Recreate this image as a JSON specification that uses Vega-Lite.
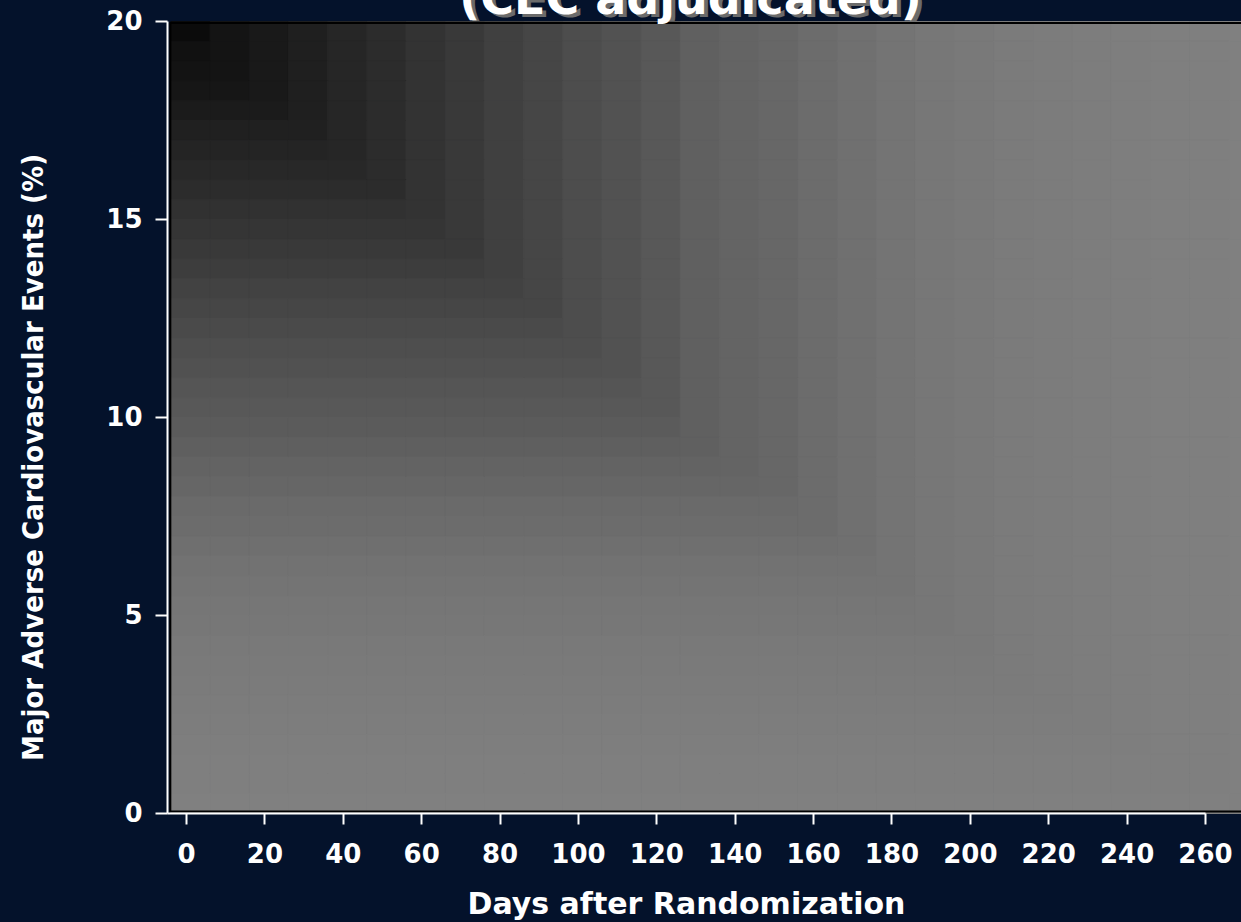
{
  "$schema": "https://vega.github.io/schema/vega-lite/v6.json",
  "autosize": {"type": "none"},
  "width": 1038,
  "height": 792,
  "padding": {"left": 167, "top": 21, "right": 36, "bottom": 109},
  "background": "#04122b",
  "config": {"view": {"stroke": null}},
  "data": {
    "values": [
      {"d":-4,"p":19.5,"g":11},{"d":6,"p":19.5,"g":20},{"d":16,"p":19.5,"g":25},{"d":26,"p":19.5,"g":31},{"d":36,"p":19.5,"g":38},{"d":46,"p":19.5,"g":44},{"d":56,"p":19.5,"g":51},{"d":66,"p":19.5,"g":57},{"d":76,"p":19.5,"g":64},{"d":86,"p":19.5,"g":70},{"d":96,"p":19.5,"g":77},{"d":106,"p":19.5,"g":82},{"d":116,"p":19.5,"g":88},{"d":126,"p":19.5,"g":96},{"d":136,"p":19.5,"g":100},{"d":146,"p":19.5,"g":103},{"d":156,"p":19.5,"g":108},{"d":166,"p":19.5,"g":112},{"d":176,"p":19.5,"g":116},{"d":186,"p":19.5,"g":119},{"d":196,"p":19.5,"g":121},{"d":206,"p":19.5,"g":123},{"d":216,"p":19.5,"g":124},{"d":226,"p":19.5,"g":125},{"d":236,"p":19.5,"g":126},{"d":246,"p":19.5,"g":127},{"d":256,"p":19.5,"g":127},{"d":266,"p":19.5,"g":128},
      {"d":-4,"p":19,"g":17},{"d":6,"p":19,"g":20},{"d":16,"p":19,"g":25},{"d":26,"p":19,"g":31},{"d":36,"p":19,"g":38},{"d":46,"p":19,"g":44},{"d":56,"p":19,"g":51},{"d":66,"p":19,"g":57},{"d":76,"p":19,"g":64},{"d":86,"p":19,"g":70},{"d":96,"p":19,"g":77},{"d":106,"p":19,"g":82},{"d":116,"p":19,"g":88},{"d":126,"p":19,"g":96},{"d":136,"p":19,"g":100},{"d":146,"p":19,"g":103},{"d":156,"p":19,"g":108},{"d":166,"p":19,"g":112},{"d":176,"p":19,"g":116},{"d":186,"p":19,"g":119},{"d":196,"p":19,"g":121},{"d":206,"p":19,"g":123},{"d":216,"p":19,"g":124},{"d":226,"p":19,"g":125},{"d":236,"p":19,"g":126},{"d":246,"p":19,"g":127},{"d":256,"p":19,"g":127},{"d":266,"p":19,"g":128},
      {"d":-4,"p":18.5,"g":19},{"d":6,"p":18.5,"g":20},{"d":16,"p":18.5,"g":25},{"d":26,"p":18.5,"g":31},{"d":36,"p":18.5,"g":38},{"d":46,"p":18.5,"g":44},{"d":56,"p":18.5,"g":51},{"d":66,"p":18.5,"g":57},{"d":76,"p":18.5,"g":64},{"d":86,"p":18.5,"g":70},{"d":96,"p":18.5,"g":77},{"d":106,"p":18.5,"g":82},{"d":116,"p":18.5,"g":88},{"d":126,"p":18.5,"g":96},{"d":136,"p":18.5,"g":100},{"d":146,"p":18.5,"g":103},{"d":156,"p":18.5,"g":108},{"d":166,"p":18.5,"g":112},{"d":176,"p":18.5,"g":116},{"d":186,"p":18.5,"g":119},{"d":196,"p":18.5,"g":121},{"d":206,"p":18.5,"g":123},{"d":216,"p":18.5,"g":124},{"d":226,"p":18.5,"g":125},{"d":236,"p":18.5,"g":126},{"d":246,"p":18.5,"g":127},{"d":256,"p":18.5,"g":127},{"d":266,"p":18.5,"g":128},
      {"d":-4,"p":18,"g":22},{"d":6,"p":18,"g":22},{"d":16,"p":18,"g":25},{"d":26,"p":18,"g":31},{"d":36,"p":18,"g":38},{"d":46,"p":18,"g":44},{"d":56,"p":18,"g":51},{"d":66,"p":18,"g":57},{"d":76,"p":18,"g":64},{"d":86,"p":18,"g":70},{"d":96,"p":18,"g":77},{"d":106,"p":18,"g":82},{"d":116,"p":18,"g":88},{"d":126,"p":18,"g":96},{"d":136,"p":18,"g":100},{"d":146,"p":18,"g":103},{"d":156,"p":18,"g":108},{"d":166,"p":18,"g":112},{"d":176,"p":18,"g":116},{"d":186,"p":18,"g":119},{"d":196,"p":18,"g":121},{"d":206,"p":18,"g":123},{"d":216,"p":18,"g":124},{"d":226,"p":18,"g":125},{"d":236,"p":18,"g":126},{"d":246,"p":18,"g":127},{"d":256,"p":18,"g":127},{"d":266,"p":18,"g":128},
      {"d":-4,"p":17.5,"g":27},{"d":6,"p":17.5,"g":27},{"d":16,"p":17.5,"g":27},{"d":26,"p":17.5,"g":31},{"d":36,"p":17.5,"g":38},{"d":46,"p":17.5,"g":44},{"d":56,"p":17.5,"g":51},{"d":66,"p":17.5,"g":57},{"d":76,"p":17.5,"g":64},{"d":86,"p":17.5,"g":70},{"d":96,"p":17.5,"g":77},{"d":106,"p":17.5,"g":82},{"d":116,"p":17.5,"g":88},{"d":126,"p":17.5,"g":96},{"d":136,"p":17.5,"g":100},{"d":146,"p":17.5,"g":103},{"d":156,"p":17.5,"g":108},{"d":166,"p":17.5,"g":112},{"d":176,"p":17.5,"g":116},{"d":186,"p":17.5,"g":119},{"d":196,"p":17.5,"g":121},{"d":206,"p":17.5,"g":123},{"d":216,"p":17.5,"g":124},{"d":226,"p":17.5,"g":125},{"d":236,"p":17.5,"g":126},{"d":246,"p":17.5,"g":127},{"d":256,"p":17.5,"g":127},{"d":266,"p":17.5,"g":128},
      {"d":-4,"p":17,"g":32},{"d":6,"p":17,"g":32},{"d":16,"p":17,"g":32},{"d":26,"p":17,"g":32},{"d":36,"p":17,"g":38},{"d":46,"p":17,"g":44},{"d":56,"p":17,"g":51},{"d":66,"p":17,"g":57},{"d":76,"p":17,"g":64},{"d":86,"p":17,"g":70},{"d":96,"p":17,"g":77},{"d":106,"p":17,"g":82},{"d":116,"p":17,"g":88},{"d":126,"p":17,"g":96},{"d":136,"p":17,"g":100},{"d":146,"p":17,"g":103},{"d":156,"p":17,"g":108},{"d":166,"p":17,"g":112},{"d":176,"p":17,"g":116},{"d":186,"p":17,"g":119},{"d":196,"p":17,"g":121},{"d":206,"p":17,"g":123},{"d":216,"p":17,"g":124},{"d":226,"p":17,"g":125},{"d":236,"p":17,"g":126},{"d":246,"p":17,"g":127},{"d":256,"p":17,"g":127},{"d":266,"p":17,"g":128},
      {"d":-4,"p":16.5,"g":36},{"d":6,"p":16.5,"g":36},{"d":16,"p":16.5,"g":36},{"d":26,"p":16.5,"g":36},{"d":36,"p":16.5,"g":38},{"d":46,"p":16.5,"g":44},{"d":56,"p":16.5,"g":51},{"d":66,"p":16.5,"g":57},{"d":76,"p":16.5,"g":64},{"d":86,"p":16.5,"g":70},{"d":96,"p":16.5,"g":77},{"d":106,"p":16.5,"g":82},{"d":116,"p":16.5,"g":88},{"d":126,"p":16.5,"g":96},{"d":136,"p":16.5,"g":100},{"d":146,"p":16.5,"g":103},{"d":156,"p":16.5,"g":108},{"d":166,"p":16.5,"g":112},{"d":176,"p":16.5,"g":116},{"d":186,"p":16.5,"g":119},{"d":196,"p":16.5,"g":121},{"d":206,"p":16.5,"g":123},{"d":216,"p":16.5,"g":124},{"d":226,"p":16.5,"g":125},{"d":236,"p":16.5,"g":126},{"d":246,"p":16.5,"g":127},{"d":256,"p":16.5,"g":127},{"d":266,"p":16.5,"g":128},
      {"d":-4,"p":16,"g":40},{"d":6,"p":16,"g":40},{"d":16,"p":16,"g":40},{"d":26,"p":16,"g":40},{"d":36,"p":16,"g":40},{"d":46,"p":16,"g":44},{"d":56,"p":16,"g":51},{"d":66,"p":16,"g":57},{"d":76,"p":16,"g":64},{"d":86,"p":16,"g":70},{"d":96,"p":16,"g":77},{"d":106,"p":16,"g":82},{"d":116,"p":16,"g":88},{"d":126,"p":16,"g":96},{"d":136,"p":16,"g":100},{"d":146,"p":16,"g":103},{"d":156,"p":16,"g":108},{"d":166,"p":16,"g":112},{"d":176,"p":16,"g":116},{"d":186,"p":16,"g":119},{"d":196,"p":16,"g":121},{"d":206,"p":16,"g":123},{"d":216,"p":16,"g":124},{"d":226,"p":16,"g":125},{"d":236,"p":16,"g":126},{"d":246,"p":16,"g":127},{"d":256,"p":16,"g":127},{"d":266,"p":16,"g":128},
      {"d":-4,"p":15.5,"g":44},{"d":6,"p":15.5,"g":44},{"d":16,"p":15.5,"g":44},{"d":26,"p":15.5,"g":44},{"d":36,"p":15.5,"g":44},{"d":46,"p":15.5,"g":44},{"d":56,"p":15.5,"g":51},{"d":66,"p":15.5,"g":57},{"d":76,"p":15.5,"g":64},{"d":86,"p":15.5,"g":70},{"d":96,"p":15.5,"g":77},{"d":106,"p":15.5,"g":82},{"d":116,"p":15.5,"g":88},{"d":126,"p":15.5,"g":96},{"d":136,"p":15.5,"g":100},{"d":146,"p":15.5,"g":103},{"d":156,"p":15.5,"g":108},{"d":166,"p":15.5,"g":112},{"d":176,"p":15.5,"g":116},{"d":186,"p":15.5,"g":119},{"d":196,"p":15.5,"g":121},{"d":206,"p":15.5,"g":123},{"d":216,"p":15.5,"g":124},{"d":226,"p":15.5,"g":125},{"d":236,"p":15.5,"g":126},{"d":246,"p":15.5,"g":127},{"d":256,"p":15.5,"g":127},{"d":266,"p":15.5,"g":128},
      {"d":-4,"p":15,"g":49},{"d":6,"p":15,"g":49},{"d":16,"p":15,"g":49},{"d":26,"p":15,"g":49},{"d":36,"p":15,"g":49},{"d":46,"p":15,"g":49},{"d":56,"p":15,"g":51},{"d":66,"p":15,"g":57},{"d":76,"p":15,"g":64},{"d":86,"p":15,"g":70},{"d":96,"p":15,"g":77},{"d":106,"p":15,"g":82},{"d":116,"p":15,"g":88},{"d":126,"p":15,"g":96},{"d":136,"p":15,"g":100},{"d":146,"p":15,"g":103},{"d":156,"p":15,"g":108},{"d":166,"p":15,"g":112},{"d":176,"p":15,"g":116},{"d":186,"p":15,"g":119},{"d":196,"p":15,"g":121},{"d":206,"p":15,"g":123},{"d":216,"p":15,"g":124},{"d":226,"p":15,"g":125},{"d":236,"p":15,"g":126},{"d":246,"p":15,"g":127},{"d":256,"p":15,"g":127},{"d":266,"p":15,"g":128},
      {"d":-4,"p":14.5,"g":53},{"d":6,"p":14.5,"g":53},{"d":16,"p":14.5,"g":53},{"d":26,"p":14.5,"g":53},{"d":36,"p":14.5,"g":53},{"d":46,"p":14.5,"g":53},{"d":56,"p":14.5,"g":53},{"d":66,"p":14.5,"g":57},{"d":76,"p":14.5,"g":64},{"d":86,"p":14.5,"g":70},{"d":96,"p":14.5,"g":77},{"d":106,"p":14.5,"g":82},{"d":116,"p":14.5,"g":88},{"d":126,"p":14.5,"g":96},{"d":136,"p":14.5,"g":100},{"d":146,"p":14.5,"g":103},{"d":156,"p":14.5,"g":108},{"d":166,"p":14.5,"g":112},{"d":176,"p":14.5,"g":116},{"d":186,"p":14.5,"g":119},{"d":196,"p":14.5,"g":121},{"d":206,"p":14.5,"g":123},{"d":216,"p":14.5,"g":124},{"d":226,"p":14.5,"g":125},{"d":236,"p":14.5,"g":126},{"d":246,"p":14.5,"g":127},{"d":256,"p":14.5,"g":127},{"d":266,"p":14.5,"g":128},
      {"d":-4,"p":14,"g":57},{"d":6,"p":14,"g":57},{"d":16,"p":14,"g":57},{"d":26,"p":14,"g":57},{"d":36,"p":14,"g":57},{"d":46,"p":14,"g":57},{"d":56,"p":14,"g":57},{"d":66,"p":14,"g":57},{"d":76,"p":14,"g":64},{"d":86,"p":14,"g":70},{"d":96,"p":14,"g":77},{"d":106,"p":14,"g":82},{"d":116,"p":14,"g":88},{"d":126,"p":14,"g":96},{"d":136,"p":14,"g":100},{"d":146,"p":14,"g":103},{"d":156,"p":14,"g":108},{"d":166,"p":14,"g":112},{"d":176,"p":14,"g":116},{"d":186,"p":14,"g":119},{"d":196,"p":14,"g":121},{"d":206,"p":14,"g":123},{"d":216,"p":14,"g":124},{"d":226,"p":14,"g":125},{"d":236,"p":14,"g":126},{"d":246,"p":14,"g":127},{"d":256,"p":14,"g":127},{"d":266,"p":14,"g":128},
      {"d":-4,"p":13.5,"g":61},{"d":6,"p":13.5,"g":61},{"d":16,"p":13.5,"g":61},{"d":26,"p":13.5,"g":61},{"d":36,"p":13.5,"g":61},{"d":46,"p":13.5,"g":61},{"d":56,"p":13.5,"g":61},{"d":66,"p":13.5,"g":61},{"d":76,"p":13.5,"g":64},{"d":86,"p":13.5,"g":70},{"d":96,"p":13.5,"g":77},{"d":106,"p":13.5,"g":82},{"d":116,"p":13.5,"g":88},{"d":126,"p":13.5,"g":96},{"d":136,"p":13.5,"g":100},{"d":146,"p":13.5,"g":103},{"d":156,"p":13.5,"g":108},{"d":166,"p":13.5,"g":112},{"d":176,"p":13.5,"g":116},{"d":186,"p":13.5,"g":119},{"d":196,"p":13.5,"g":121},{"d":206,"p":13.5,"g":123},{"d":216,"p":13.5,"g":124},{"d":226,"p":13.5,"g":125},{"d":236,"p":13.5,"g":126},{"d":246,"p":13.5,"g":127},{"d":256,"p":13.5,"g":127},{"d":266,"p":13.5,"g":128},
      {"d":-4,"p":13,"g":66},{"d":6,"p":13,"g":66},{"d":16,"p":13,"g":66},{"d":26,"p":13,"g":66},{"d":36,"p":13,"g":66},{"d":46,"p":13,"g":66},{"d":56,"p":13,"g":66},{"d":66,"p":13,"g":66},{"d":76,"p":13,"g":66},{"d":86,"p":13,"g":70},{"d":96,"p":13,"g":77},{"d":106,"p":13,"g":82},{"d":116,"p":13,"g":88},{"d":126,"p":13,"g":96},{"d":136,"p":13,"g":100},{"d":146,"p":13,"g":103},{"d":156,"p":13,"g":108},{"d":166,"p":13,"g":112},{"d":176,"p":13,"g":116},{"d":186,"p":13,"g":119},{"d":196,"p":13,"g":121},{"d":206,"p":13,"g":123},{"d":216,"p":13,"g":124},{"d":226,"p":13,"g":125},{"d":236,"p":13,"g":126},{"d":246,"p":13,"g":127},{"d":256,"p":13,"g":127},{"d":266,"p":13,"g":128},
      {"d":-4,"p":12.5,"g":70},{"d":6,"p":12.5,"g":70},{"d":16,"p":12.5,"g":70},{"d":26,"p":12.5,"g":70},{"d":36,"p":12.5,"g":70},{"d":46,"p":12.5,"g":70},{"d":56,"p":12.5,"g":70},{"d":66,"p":12.5,"g":70},{"d":76,"p":12.5,"g":70},{"d":86,"p":12.5,"g":70},{"d":96,"p":12.5,"g":77},{"d":106,"p":12.5,"g":82},{"d":116,"p":12.5,"g":88},{"d":126,"p":12.5,"g":96},{"d":136,"p":12.5,"g":100},{"d":146,"p":12.5,"g":103},{"d":156,"p":12.5,"g":108},{"d":166,"p":12.5,"g":112},{"d":176,"p":12.5,"g":116},{"d":186,"p":12.5,"g":119},{"d":196,"p":12.5,"g":121},{"d":206,"p":12.5,"g":123},{"d":216,"p":12.5,"g":124},{"d":226,"p":12.5,"g":125},{"d":236,"p":12.5,"g":126},{"d":246,"p":12.5,"g":127},{"d":256,"p":12.5,"g":127},{"d":266,"p":12.5,"g":128},
      {"d":-4,"p":12,"g":74},{"d":6,"p":12,"g":74},{"d":16,"p":12,"g":74},{"d":26,"p":12,"g":74},{"d":36,"p":12,"g":74},{"d":46,"p":12,"g":74},{"d":56,"p":12,"g":74},{"d":66,"p":12,"g":74},{"d":76,"p":12,"g":74},{"d":86,"p":12,"g":74},{"d":96,"p":12,"g":77},{"d":106,"p":12,"g":82},{"d":116,"p":12,"g":88},{"d":126,"p":12,"g":96},{"d":136,"p":12,"g":100},{"d":146,"p":12,"g":103},{"d":156,"p":12,"g":108},{"d":166,"p":12,"g":112},{"d":176,"p":12,"g":116},{"d":186,"p":12,"g":119},{"d":196,"p":12,"g":121},{"d":206,"p":12,"g":123},{"d":216,"p":12,"g":124},{"d":226,"p":12,"g":125},{"d":236,"p":12,"g":126},{"d":246,"p":12,"g":127},{"d":256,"p":12,"g":127},{"d":266,"p":12,"g":128},
      {"d":-4,"p":11.5,"g":78},{"d":6,"p":11.5,"g":78},{"d":16,"p":11.5,"g":78},{"d":26,"p":11.5,"g":78},{"d":36,"p":11.5,"g":78},{"d":46,"p":11.5,"g":78},{"d":56,"p":11.5,"g":78},{"d":66,"p":11.5,"g":78},{"d":76,"p":11.5,"g":78},{"d":86,"p":11.5,"g":78},{"d":96,"p":11.5,"g":78},{"d":106,"p":11.5,"g":82},{"d":116,"p":11.5,"g":88},{"d":126,"p":11.5,"g":96},{"d":136,"p":11.5,"g":100},{"d":146,"p":11.5,"g":103},{"d":156,"p":11.5,"g":108},{"d":166,"p":11.5,"g":112},{"d":176,"p":11.5,"g":116},{"d":186,"p":11.5,"g":119},{"d":196,"p":11.5,"g":121},{"d":206,"p":11.5,"g":123},{"d":216,"p":11.5,"g":124},{"d":226,"p":11.5,"g":125},{"d":236,"p":11.5,"g":126},{"d":246,"p":11.5,"g":127},{"d":256,"p":11.5,"g":127},{"d":266,"p":11.5,"g":128},
      {"d":-4,"p":11,"g":81},{"d":6,"p":11,"g":81},{"d":16,"p":11,"g":81},{"d":26,"p":11,"g":81},{"d":36,"p":11,"g":81},{"d":46,"p":11,"g":81},{"d":56,"p":11,"g":81},{"d":66,"p":11,"g":81},{"d":76,"p":11,"g":81},{"d":86,"p":11,"g":81},{"d":96,"p":11,"g":81},{"d":106,"p":11,"g":82},{"d":116,"p":11,"g":88},{"d":126,"p":11,"g":96},{"d":136,"p":11,"g":100},{"d":146,"p":11,"g":103},{"d":156,"p":11,"g":108},{"d":166,"p":11,"g":112},{"d":176,"p":11,"g":116},{"d":186,"p":11,"g":119},{"d":196,"p":11,"g":121},{"d":206,"p":11,"g":123},{"d":216,"p":11,"g":124},{"d":226,"p":11,"g":125},{"d":236,"p":11,"g":126},{"d":246,"p":11,"g":127},{"d":256,"p":11,"g":127},{"d":266,"p":11,"g":128},
      {"d":-4,"p":10.5,"g":85},{"d":6,"p":10.5,"g":85},{"d":16,"p":10.5,"g":85},{"d":26,"p":10.5,"g":85},{"d":36,"p":10.5,"g":85},{"d":46,"p":10.5,"g":85},{"d":56,"p":10.5,"g":85},{"d":66,"p":10.5,"g":85},{"d":76,"p":10.5,"g":85},{"d":86,"p":10.5,"g":85},{"d":96,"p":10.5,"g":85},{"d":106,"p":10.5,"g":85},{"d":116,"p":10.5,"g":88},{"d":126,"p":10.5,"g":96},{"d":136,"p":10.5,"g":100},{"d":146,"p":10.5,"g":103},{"d":156,"p":10.5,"g":108},{"d":166,"p":10.5,"g":112},{"d":176,"p":10.5,"g":116},{"d":186,"p":10.5,"g":119},{"d":196,"p":10.5,"g":121},{"d":206,"p":10.5,"g":123},{"d":216,"p":10.5,"g":124},{"d":226,"p":10.5,"g":125},{"d":236,"p":10.5,"g":126},{"d":246,"p":10.5,"g":127},{"d":256,"p":10.5,"g":127},{"d":266,"p":10.5,"g":128},
      {"d":-4,"p":10,"g":88},{"d":6,"p":10,"g":88},{"d":16,"p":10,"g":88},{"d":26,"p":10,"g":88},{"d":36,"p":10,"g":88},{"d":46,"p":10,"g":88},{"d":56,"p":10,"g":88},{"d":66,"p":10,"g":88},{"d":76,"p":10,"g":88},{"d":86,"p":10,"g":88},{"d":96,"p":10,"g":88},{"d":106,"p":10,"g":88},{"d":116,"p":10,"g":88},{"d":126,"p":10,"g":96},{"d":136,"p":10,"g":100},{"d":146,"p":10,"g":103},{"d":156,"p":10,"g":108},{"d":166,"p":10,"g":112},{"d":176,"p":10,"g":116},{"d":186,"p":10,"g":119},{"d":196,"p":10,"g":121},{"d":206,"p":10,"g":123},{"d":216,"p":10,"g":124},{"d":226,"p":10,"g":125},{"d":236,"p":10,"g":126},{"d":246,"p":10,"g":127},{"d":256,"p":10,"g":127},{"d":266,"p":10,"g":128},
      {"d":-4,"p":9.5,"g":91},{"d":6,"p":9.5,"g":91},{"d":16,"p":9.5,"g":91},{"d":26,"p":9.5,"g":91},{"d":36,"p":9.5,"g":91},{"d":46,"p":9.5,"g":91},{"d":56,"p":9.5,"g":91},{"d":66,"p":9.5,"g":91},{"d":76,"p":9.5,"g":91},{"d":86,"p":9.5,"g":91},{"d":96,"p":9.5,"g":91},{"d":106,"p":9.5,"g":91},{"d":116,"p":9.5,"g":91},{"d":126,"p":9.5,"g":96},{"d":136,"p":9.5,"g":100},{"d":146,"p":9.5,"g":103},{"d":156,"p":9.5,"g":108},{"d":166,"p":9.5,"g":112},{"d":176,"p":9.5,"g":116},{"d":186,"p":9.5,"g":119},{"d":196,"p":9.5,"g":121},{"d":206,"p":9.5,"g":123},{"d":216,"p":9.5,"g":124},{"d":226,"p":9.5,"g":125},{"d":236,"p":9.5,"g":126},{"d":246,"p":9.5,"g":127},{"d":256,"p":9.5,"g":127},{"d":266,"p":9.5,"g":128},
      {"d":-4,"p":9,"g":95},{"d":6,"p":9,"g":95},{"d":16,"p":9,"g":95},{"d":26,"p":9,"g":95},{"d":36,"p":9,"g":95},{"d":46,"p":9,"g":95},{"d":56,"p":9,"g":95},{"d":66,"p":9,"g":95},{"d":76,"p":9,"g":95},{"d":86,"p":9,"g":95},{"d":96,"p":9,"g":95},{"d":106,"p":9,"g":95},{"d":116,"p":9,"g":95},{"d":126,"p":9,"g":96},{"d":136,"p":9,"g":100},{"d":146,"p":9,"g":103},{"d":156,"p":9,"g":108},{"d":166,"p":9,"g":112},{"d":176,"p":9,"g":116},{"d":186,"p":9,"g":119},{"d":196,"p":9,"g":121},{"d":206,"p":9,"g":123},{"d":216,"p":9,"g":124},{"d":226,"p":9,"g":125},{"d":236,"p":9,"g":126},{"d":246,"p":9,"g":127},{"d":256,"p":9,"g":127},{"d":266,"p":9,"g":128},
      {"d":-4,"p":8.5,"g":99},{"d":6,"p":8.5,"g":99},{"d":16,"p":8.5,"g":99},{"d":26,"p":8.5,"g":99},{"d":36,"p":8.5,"g":99},{"d":46,"p":8.5,"g":99},{"d":56,"p":8.5,"g":99},{"d":66,"p":8.5,"g":99},{"d":76,"p":8.5,"g":99},{"d":86,"p":8.5,"g":99},{"d":96,"p":8.5,"g":99},{"d":106,"p":8.5,"g":99},{"d":116,"p":8.5,"g":99},{"d":126,"p":8.5,"g":99},{"d":136,"p":8.5,"g":100},{"d":146,"p":8.5,"g":103},{"d":156,"p":8.5,"g":108},{"d":166,"p":8.5,"g":112},{"d":176,"p":8.5,"g":116},{"d":186,"p":8.5,"g":119},{"d":196,"p":8.5,"g":121},{"d":206,"p":8.5,"g":123},{"d":216,"p":8.5,"g":124},{"d":226,"p":8.5,"g":125},{"d":236,"p":8.5,"g":126},{"d":246,"p":8.5,"g":127},{"d":256,"p":8.5,"g":127},{"d":266,"p":8.5,"g":128},
      {"d":-4,"p":8,"g":102},{"d":6,"p":8,"g":102},{"d":16,"p":8,"g":102},{"d":26,"p":8,"g":102},{"d":36,"p":8,"g":102},{"d":46,"p":8,"g":102},{"d":56,"p":8,"g":102},{"d":66,"p":8,"g":102},{"d":76,"p":8,"g":102},{"d":86,"p":8,"g":102},{"d":96,"p":8,"g":102},{"d":106,"p":8,"g":102},{"d":116,"p":8,"g":102},{"d":126,"p":8,"g":102},{"d":136,"p":8,"g":102},{"d":146,"p":8,"g":103},{"d":156,"p":8,"g":108},{"d":166,"p":8,"g":112},{"d":176,"p":8,"g":116},{"d":186,"p":8,"g":119},{"d":196,"p":8,"g":121},{"d":206,"p":8,"g":123},{"d":216,"p":8,"g":124},{"d":226,"p":8,"g":125},{"d":236,"p":8,"g":126},{"d":246,"p":8,"g":127},{"d":256,"p":8,"g":127},{"d":266,"p":8,"g":128},
      {"d":-4,"p":7.5,"g":106},{"d":6,"p":7.5,"g":106},{"d":16,"p":7.5,"g":106},{"d":26,"p":7.5,"g":106},{"d":36,"p":7.5,"g":106},{"d":46,"p":7.5,"g":106},{"d":56,"p":7.5,"g":106},{"d":66,"p":7.5,"g":106},{"d":76,"p":7.5,"g":106},{"d":86,"p":7.5,"g":106},{"d":96,"p":7.5,"g":106},{"d":106,"p":7.5,"g":106},{"d":116,"p":7.5,"g":106},{"d":126,"p":7.5,"g":106},{"d":136,"p":7.5,"g":106},{"d":146,"p":7.5,"g":106},{"d":156,"p":7.5,"g":108},{"d":166,"p":7.5,"g":112},{"d":176,"p":7.5,"g":116},{"d":186,"p":7.5,"g":119},{"d":196,"p":7.5,"g":121},{"d":206,"p":7.5,"g":123},{"d":216,"p":7.5,"g":124},{"d":226,"p":7.5,"g":125},{"d":236,"p":7.5,"g":126},{"d":246,"p":7.5,"g":127},{"d":256,"p":7.5,"g":127},{"d":266,"p":7.5,"g":128},
      {"d":-4,"p":7,"g":108},{"d":6,"p":7,"g":108},{"d":16,"p":7,"g":108},{"d":26,"p":7,"g":108},{"d":36,"p":7,"g":108},{"d":46,"p":7,"g":108},{"d":56,"p":7,"g":108},{"d":66,"p":7,"g":108},{"d":76,"p":7,"g":108},{"d":86,"p":7,"g":108},{"d":96,"p":7,"g":108},{"d":106,"p":7,"g":108},{"d":116,"p":7,"g":108},{"d":126,"p":7,"g":108},{"d":136,"p":7,"g":108},{"d":146,"p":7,"g":108},{"d":156,"p":7,"g":108},{"d":166,"p":7,"g":112},{"d":176,"p":7,"g":116},{"d":186,"p":7,"g":119},{"d":196,"p":7,"g":121},{"d":206,"p":7,"g":123},{"d":216,"p":7,"g":124},{"d":226,"p":7,"g":125},{"d":236,"p":7,"g":126},{"d":246,"p":7,"g":127},{"d":256,"p":7,"g":127},{"d":266,"p":7,"g":128},
      {"d":-4,"p":6.5,"g":111},{"d":6,"p":6.5,"g":111},{"d":16,"p":6.5,"g":111},{"d":26,"p":6.5,"g":111},{"d":36,"p":6.5,"g":111},{"d":46,"p":6.5,"g":111},{"d":56,"p":6.5,"g":111},{"d":66,"p":6.5,"g":111},{"d":76,"p":6.5,"g":111},{"d":86,"p":6.5,"g":111},{"d":96,"p":6.5,"g":111},{"d":106,"p":6.5,"g":111},{"d":116,"p":6.5,"g":111},{"d":126,"p":6.5,"g":111},{"d":136,"p":6.5,"g":111},{"d":146,"p":6.5,"g":111},{"d":156,"p":6.5,"g":111},{"d":166,"p":6.5,"g":112},{"d":176,"p":6.5,"g":116},{"d":186,"p":6.5,"g":119},{"d":196,"p":6.5,"g":121},{"d":206,"p":6.5,"g":123},{"d":216,"p":6.5,"g":124},{"d":226,"p":6.5,"g":125},{"d":236,"p":6.5,"g":126},{"d":246,"p":6.5,"g":127},{"d":256,"p":6.5,"g":127},{"d":266,"p":6.5,"g":128},
      {"d":-4,"p":6,"g":114},{"d":6,"p":6,"g":114},{"d":16,"p":6,"g":114},{"d":26,"p":6,"g":114},{"d":36,"p":6,"g":114},{"d":46,"p":6,"g":114},{"d":56,"p":6,"g":114},{"d":66,"p":6,"g":114},{"d":76,"p":6,"g":114},{"d":86,"p":6,"g":114},{"d":96,"p":6,"g":114},{"d":106,"p":6,"g":114},{"d":116,"p":6,"g":114},{"d":126,"p":6,"g":114},{"d":136,"p":6,"g":114},{"d":146,"p":6,"g":114},{"d":156,"p":6,"g":114},{"d":166,"p":6,"g":114},{"d":176,"p":6,"g":116},{"d":186,"p":6,"g":119},{"d":196,"p":6,"g":121},{"d":206,"p":6,"g":123},{"d":216,"p":6,"g":124},{"d":226,"p":6,"g":125},{"d":236,"p":6,"g":126},{"d":246,"p":6,"g":127},{"d":256,"p":6,"g":127},{"d":266,"p":6,"g":128},
      {"d":-4,"p":5.5,"g":116},{"d":6,"p":5.5,"g":116},{"d":16,"p":5.5,"g":116},{"d":26,"p":5.5,"g":116},{"d":36,"p":5.5,"g":116},{"d":46,"p":5.5,"g":116},{"d":56,"p":5.5,"g":116},{"d":66,"p":5.5,"g":116},{"d":76,"p":5.5,"g":116},{"d":86,"p":5.5,"g":116},{"d":96,"p":5.5,"g":116},{"d":106,"p":5.5,"g":116},{"d":116,"p":5.5,"g":116},{"d":126,"p":5.5,"g":116},{"d":136,"p":5.5,"g":116},{"d":146,"p":5.5,"g":116},{"d":156,"p":5.5,"g":116},{"d":166,"p":5.5,"g":116},{"d":176,"p":5.5,"g":116},{"d":186,"p":5.5,"g":119},{"d":196,"p":5.5,"g":121},{"d":206,"p":5.5,"g":123},{"d":216,"p":5.5,"g":124},{"d":226,"p":5.5,"g":125},{"d":236,"p":5.5,"g":126},{"d":246,"p":5.5,"g":127},{"d":256,"p":5.5,"g":127},{"d":266,"p":5.5,"g":128},
      {"d":-4,"p":5,"g":118},{"d":6,"p":5,"g":118},{"d":16,"p":5,"g":118},{"d":26,"p":5,"g":118},{"d":36,"p":5,"g":118},{"d":46,"p":5,"g":118},{"d":56,"p":5,"g":118},{"d":66,"p":5,"g":118},{"d":76,"p":5,"g":118},{"d":86,"p":5,"g":118},{"d":96,"p":5,"g":118},{"d":106,"p":5,"g":118},{"d":116,"p":5,"g":118},{"d":126,"p":5,"g":118},{"d":136,"p":5,"g":118},{"d":146,"p":5,"g":118},{"d":156,"p":5,"g":118},{"d":166,"p":5,"g":118},{"d":176,"p":5,"g":118},{"d":186,"p":5,"g":119},{"d":196,"p":5,"g":121},{"d":206,"p":5,"g":123},{"d":216,"p":5,"g":124},{"d":226,"p":5,"g":125},{"d":236,"p":5,"g":126},{"d":246,"p":5,"g":127},{"d":256,"p":5,"g":127},{"d":266,"p":5,"g":128},
      {"d":-4,"p":4.5,"g":119},{"d":6,"p":4.5,"g":119},{"d":16,"p":4.5,"g":119},{"d":26,"p":4.5,"g":119},{"d":36,"p":4.5,"g":119},{"d":46,"p":4.5,"g":119},{"d":56,"p":4.5,"g":119},{"d":66,"p":4.5,"g":119},{"d":76,"p":4.5,"g":119},{"d":86,"p":4.5,"g":119},{"d":96,"p":4.5,"g":119},{"d":106,"p":4.5,"g":119},{"d":116,"p":4.5,"g":119},{"d":126,"p":4.5,"g":119},{"d":136,"p":4.5,"g":119},{"d":146,"p":4.5,"g":119},{"d":156,"p":4.5,"g":119},{"d":166,"p":4.5,"g":119},{"d":176,"p":4.5,"g":119},{"d":186,"p":4.5,"g":119},{"d":196,"p":4.5,"g":121},{"d":206,"p":4.5,"g":123},{"d":216,"p":4.5,"g":124},{"d":226,"p":4.5,"g":125},{"d":236,"p":4.5,"g":126},{"d":246,"p":4.5,"g":127},{"d":256,"p":4.5,"g":127},{"d":266,"p":4.5,"g":128},
      {"d":-4,"p":4,"g":121},{"d":6,"p":4,"g":121},{"d":16,"p":4,"g":121},{"d":26,"p":4,"g":121},{"d":36,"p":4,"g":121},{"d":46,"p":4,"g":121},{"d":56,"p":4,"g":121},{"d":66,"p":4,"g":121},{"d":76,"p":4,"g":121},{"d":86,"p":4,"g":121},{"d":96,"p":4,"g":121},{"d":106,"p":4,"g":121},{"d":116,"p":4,"g":121},{"d":126,"p":4,"g":121},{"d":136,"p":4,"g":121},{"d":146,"p":4,"g":121},{"d":156,"p":4,"g":121},{"d":166,"p":4,"g":121},{"d":176,"p":4,"g":121},{"d":186,"p":4,"g":121},{"d":196,"p":4,"g":121},{"d":206,"p":4,"g":123},{"d":216,"p":4,"g":124},{"d":226,"p":4,"g":125},{"d":236,"p":4,"g":126},{"d":246,"p":4,"g":127},{"d":256,"p":4,"g":127},{"d":266,"p":4,"g":128},
      {"d":-4,"p":3.5,"g":122},{"d":6,"p":3.5,"g":122},{"d":16,"p":3.5,"g":122},{"d":26,"p":3.5,"g":122},{"d":36,"p":3.5,"g":122},{"d":46,"p":3.5,"g":122},{"d":56,"p":3.5,"g":122},{"d":66,"p":3.5,"g":122},{"d":76,"p":3.5,"g":122},{"d":86,"p":3.5,"g":122},{"d":96,"p":3.5,"g":122},{"d":106,"p":3.5,"g":122},{"d":116,"p":3.5,"g":122},{"d":126,"p":3.5,"g":122},{"d":136,"p":3.5,"g":122},{"d":146,"p":3.5,"g":122},{"d":156,"p":3.5,"g":122},{"d":166,"p":3.5,"g":122},{"d":176,"p":3.5,"g":122},{"d":186,"p":3.5,"g":122},{"d":196,"p":3.5,"g":122},{"d":206,"p":3.5,"g":123},{"d":216,"p":3.5,"g":124},{"d":226,"p":3.5,"g":125},{"d":236,"p":3.5,"g":126},{"d":246,"p":3.5,"g":127},{"d":256,"p":3.5,"g":127},{"d":266,"p":3.5,"g":128},
      {"d":-4,"p":3,"g":123},{"d":6,"p":3,"g":123},{"d":16,"p":3,"g":123},{"d":26,"p":3,"g":123},{"d":36,"p":3,"g":123},{"d":46,"p":3,"g":123},{"d":56,"p":3,"g":123},{"d":66,"p":3,"g":123},{"d":76,"p":3,"g":123},{"d":86,"p":3,"g":123},{"d":96,"p":3,"g":123},{"d":106,"p":3,"g":123},{"d":116,"p":3,"g":123},{"d":126,"p":3,"g":123},{"d":136,"p":3,"g":123},{"d":146,"p":3,"g":123},{"d":156,"p":3,"g":123},{"d":166,"p":3,"g":123},{"d":176,"p":3,"g":123},{"d":186,"p":3,"g":123},{"d":196,"p":3,"g":123},{"d":206,"p":3,"g":123},{"d":216,"p":3,"g":124},{"d":226,"p":3,"g":125},{"d":236,"p":3,"g":126},{"d":246,"p":3,"g":127},{"d":256,"p":3,"g":127},{"d":266,"p":3,"g":128},
      {"d":-4,"p":2.5,"g":124},{"d":6,"p":2.5,"g":124},{"d":16,"p":2.5,"g":124},{"d":26,"p":2.5,"g":124},{"d":36,"p":2.5,"g":124},{"d":46,"p":2.5,"g":124},{"d":56,"p":2.5,"g":124},{"d":66,"p":2.5,"g":124},{"d":76,"p":2.5,"g":124},{"d":86,"p":2.5,"g":124},{"d":96,"p":2.5,"g":124},{"d":106,"p":2.5,"g":124},{"d":116,"p":2.5,"g":124},{"d":126,"p":2.5,"g":124},{"d":136,"p":2.5,"g":124},{"d":146,"p":2.5,"g":124},{"d":156,"p":2.5,"g":124},{"d":166,"p":2.5,"g":124},{"d":176,"p":2.5,"g":124},{"d":186,"p":2.5,"g":124},{"d":196,"p":2.5,"g":124},{"d":206,"p":2.5,"g":124},{"d":216,"p":2.5,"g":124},{"d":226,"p":2.5,"g":125},{"d":236,"p":2.5,"g":126},{"d":246,"p":2.5,"g":127},{"d":256,"p":2.5,"g":127},{"d":266,"p":2.5,"g":128},
      {"d":-4,"p":2,"g":125},{"d":6,"p":2,"g":125},{"d":16,"p":2,"g":125},{"d":26,"p":2,"g":125},{"d":36,"p":2,"g":125},{"d":46,"p":2,"g":125},{"d":56,"p":2,"g":125},{"d":66,"p":2,"g":125},{"d":76,"p":2,"g":125},{"d":86,"p":2,"g":125},{"d":96,"p":2,"g":125},{"d":106,"p":2,"g":125},{"d":116,"p":2,"g":125},{"d":126,"p":2,"g":125},{"d":136,"p":2,"g":125},{"d":146,"p":2,"g":125},{"d":156,"p":2,"g":125},{"d":166,"p":2,"g":125},{"d":176,"p":2,"g":125},{"d":186,"p":2,"g":125},{"d":196,"p":2,"g":125},{"d":206,"p":2,"g":125},{"d":216,"p":2,"g":125},{"d":226,"p":2,"g":125},{"d":236,"p":2,"g":126},{"d":246,"p":2,"g":127},{"d":256,"p":2,"g":127},{"d":266,"p":2,"g":128},
      {"d":-4,"p":1.5,"g":126},{"d":6,"p":1.5,"g":126},{"d":16,"p":1.5,"g":126},{"d":26,"p":1.5,"g":126},{"d":36,"p":1.5,"g":126},{"d":46,"p":1.5,"g":126},{"d":56,"p":1.5,"g":126},{"d":66,"p":1.5,"g":126},{"d":76,"p":1.5,"g":126},{"d":86,"p":1.5,"g":126},{"d":96,"p":1.5,"g":126},{"d":106,"p":1.5,"g":126},{"d":116,"p":1.5,"g":126},{"d":126,"p":1.5,"g":126},{"d":136,"p":1.5,"g":126},{"d":146,"p":1.5,"g":126},{"d":156,"p":1.5,"g":126},{"d":166,"p":1.5,"g":126},{"d":176,"p":1.5,"g":126},{"d":186,"p":1.5,"g":126},{"d":196,"p":1.5,"g":126},{"d":206,"p":1.5,"g":126},{"d":216,"p":1.5,"g":126},{"d":226,"p":1.5,"g":126},{"d":236,"p":1.5,"g":126},{"d":246,"p":1.5,"g":127},{"d":256,"p":1.5,"g":127},{"d":266,"p":1.5,"g":128},
      {"d":-4,"p":1,"g":127},{"d":6,"p":1,"g":127},{"d":16,"p":1,"g":127},{"d":26,"p":1,"g":127},{"d":36,"p":1,"g":127},{"d":46,"p":1,"g":127},{"d":56,"p":1,"g":127},{"d":66,"p":1,"g":127},{"d":76,"p":1,"g":127},{"d":86,"p":1,"g":127},{"d":96,"p":1,"g":127},{"d":106,"p":1,"g":127},{"d":116,"p":1,"g":127},{"d":126,"p":1,"g":127},{"d":136,"p":1,"g":127},{"d":146,"p":1,"g":127},{"d":156,"p":1,"g":127},{"d":166,"p":1,"g":127},{"d":176,"p":1,"g":127},{"d":186,"p":1,"g":127},{"d":196,"p":1,"g":127},{"d":206,"p":1,"g":127},{"d":216,"p":1,"g":127},{"d":226,"p":1,"g":127},{"d":236,"p":1,"g":127},{"d":246,"p":1,"g":127},{"d":256,"p":1,"g":127},{"d":266,"p":1,"g":128},
      {"d":-4,"p":0.5,"g":127},{"d":6,"p":0.5,"g":127},{"d":16,"p":0.5,"g":127},{"d":26,"p":0.5,"g":127},{"d":36,"p":0.5,"g":127},{"d":46,"p":0.5,"g":127},{"d":56,"p":0.5,"g":127},{"d":66,"p":0.5,"g":127},{"d":76,"p":0.5,"g":127},{"d":86,"p":0.5,"g":127},{"d":96,"p":0.5,"g":127},{"d":106,"p":0.5,"g":127},{"d":116,"p":0.5,"g":127},{"d":126,"p":0.5,"g":127},{"d":136,"p":0.5,"g":127},{"d":146,"p":0.5,"g":127},{"d":156,"p":0.5,"g":127},{"d":166,"p":0.5,"g":127},{"d":176,"p":0.5,"g":127},{"d":186,"p":0.5,"g":127},{"d":196,"p":0.5,"g":127},{"d":206,"p":0.5,"g":127},{"d":216,"p":0.5,"g":127},{"d":226,"p":0.5,"g":127},{"d":236,"p":0.5,"g":127},{"d":246,"p":0.5,"g":127},{"d":256,"p":0.5,"g":127},{"d":266,"p":0.5,"g":128},
      {"d":-4,"p":0,"g":128},{"d":6,"p":0,"g":128},{"d":16,"p":0,"g":128},{"d":26,"p":0,"g":128},{"d":36,"p":0,"g":128},{"d":46,"p":0,"g":128},{"d":56,"p":0,"g":128},{"d":66,"p":0,"g":128},{"d":76,"p":0,"g":128},{"d":86,"p":0,"g":128},{"d":96,"p":0,"g":128},{"d":106,"p":0,"g":128},{"d":116,"p":0,"g":128},{"d":126,"p":0,"g":128},{"d":136,"p":0,"g":128},{"d":146,"p":0,"g":128},{"d":156,"p":0,"g":128},{"d":166,"p":0,"g":128},{"d":176,"p":0,"g":128},{"d":186,"p":0,"g":128},{"d":196,"p":0,"g":128},{"d":206,"p":0,"g":128},{"d":216,"p":0,"g":128},{"d":226,"p":0,"g":128},{"d":236,"p":0,"g":128},{"d":246,"p":0,"g":128},{"d":256,"p":0,"g":128},{"d":266,"p":0,"g":128}
    ]
  },
  "layer": [
    {
      "mark": {"type": "rect", "clip": false, "strokeWidth": 1},
      "encoding": {
        "x": {
          "field": "d",
          "type": "quantitative",
          "bin": {"step": 10, "extent": [-4, 276], "nice": false, "anchor": -4},
          "scale": {"domain": [-4.85, 260], "nice": false, "zero": false},
          "axis": {
            "values": [0, 20, 40, 60, 80, 100, 120, 140, 160, 180, 200, 220, 240, 260],
            "format": "d",
            "title": "Days after Randomization",
            "grid": false,
            "zindex": 1,
            "domainColor": "white",
            "domainWidth": 2,
            "tickColor": "white",
            "tickWidth": 2,
            "tickSize": 11,
            "labelColor": "white",
            "labelFont": "DejaVu Sans",
            "labelFontSize": 26,
            "labelFontWeight": "bold",
            "labelPadding": 17,
            "labelFlush": false,
            "labelOverlap": false,
            "titleColor": "white",
            "titleFont": "DejaVu Sans",
            "titleFontSize": 30,
            "titleFontWeight": "bold",
            "titleAlign": "center",
            "titleBaseline": "alphabetic",
            "titleX": 519,
            "titleY": 100
          }
        },
        "y": {
          "field": "p",
          "type": "quantitative",
          "bin": {"step": 0.5, "extent": [0, 20], "nice": false, "anchor": 0},
          "scale": {"domain": [0, 20], "nice": false},
          "axis": {
            "values": [0, 5, 10, 15, 20],
            "format": "d",
            "title": "Major Adverse Cardiovascular Events (%)",
            "grid": false,
            "zindex": 1,
            "domainColor": "white",
            "domainWidth": 2,
            "tickColor": "white",
            "tickWidth": 2,
            "tickSize": 12,
            "labelColor": "white",
            "labelFont": "DejaVu Sans",
            "labelFontSize": 26,
            "labelFontWeight": "bold",
            "labelPadding": 13,
            "labelOverlap": false,
            "titleColor": "white",
            "titleFont": "DejaVu Sans Condensed",
            "titleFontSize": 29,
            "titleFontWeight": "bold",
            "titleAngle": -90,
            "titleAlign": "center",
            "titleBaseline": "alphabetic",
            "titleX": -125,
            "titleY": 436
          }
        },
        "color": {
          "field": "g",
          "type": "quantitative",
          "scale": {"type": "linear", "domain": [0, 128], "range": ["#000000", "#808080"], "interpolate": "rgb"},
          "legend": null
        },
        "stroke": {
          "field": "g",
          "type": "quantitative",
          "scale": {"type": "linear", "domain": [0, 128], "range": ["#000000", "#808080"], "interpolate": "rgb"},
          "legend": null
        }
      }
    },
    {
      "data": {"values": [{}]},
      "mark": {"type": "rect", "fill": null, "stroke": "black", "strokeWidth": 2, "clip": false},
      "encoding": {
        "x": {
          "datum": -4,
          "type": "quantitative",
          "axis": {
            "orient": "top",
            "domain": false,
            "ticks": false,
            "labels": false,
            "grid": false,
            "zindex": 0,
            "title": "(CEC adjudicated)",
            "titleColor": "#6b6b6b",
            "titleFont": "DejaVu Sans",
            "titleFontSize": 46,
            "titleFontWeight": "bold",
            "titleAlign": "center",
            "titleBaseline": "alphabetic",
            "titleX": 527,
            "titleY": -5
          }
        },
        "x2": {"datum": 285},
        "y": {
          "datum": 0.04,
          "type": "quantitative",
          "axis": {
            "orient": "right",
            "domain": false,
            "ticks": false,
            "labels": false,
            "grid": false,
            "zindex": 2,
            "title": "(CEC adjudicated)",
            "titleColor": "white",
            "titleFont": "DejaVu Sans",
            "titleFontSize": 46,
            "titleFontWeight": "bold",
            "titleAngle": 0,
            "titleAlign": "center",
            "titleBaseline": "alphabetic",
            "titleX": -515,
            "titleY": -8
          }
        },
        "y2": {"datum": 19.95}
      }
    }
  ],
  "resolve": {"axis": {"x": "independent", "y": "independent"}}
}
